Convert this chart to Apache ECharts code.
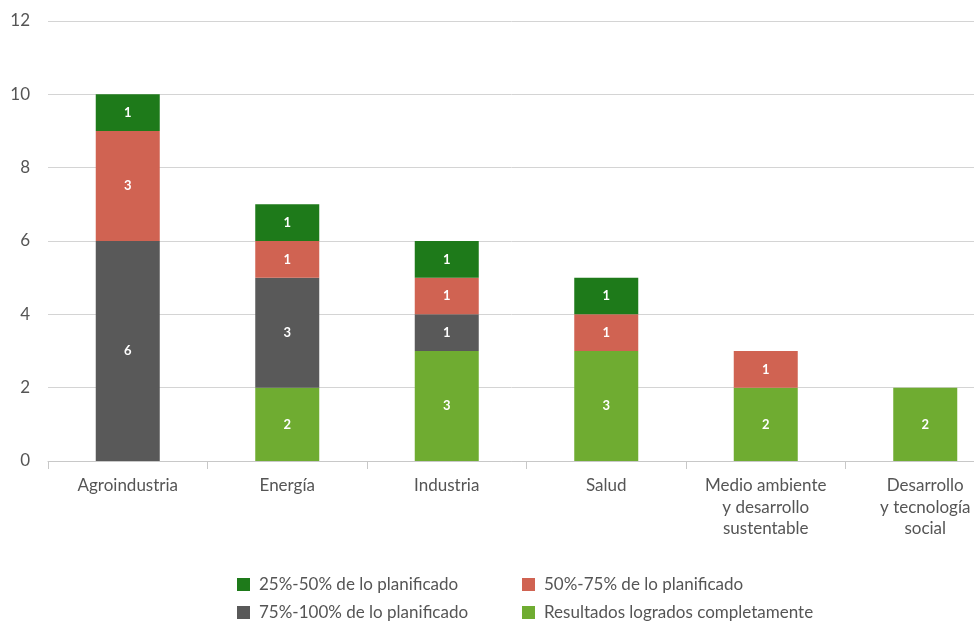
<!DOCTYPE html>
<html><head><meta charset="utf-8">
<script src="https://cdn.jsdelivr.net/npm/echarts@6/dist/echarts.min.js"></script>
<style>html,body{margin:0;padding:0;background:#fff}#c{width:974px;height:623px}</style>
</head><body><div id="c"></div>
<script>
const categories = ['Agroindustria','Energía','Industria','Salud','Medio ambiente\ny desarrollo\nsustentable','Desarrollo\ny tecnología\nsocial'];
const completos = [null, 2, 3, 3, 2, 2];
const p75_100 = [6, 3, 1, null, null, null];
const p50_75 = [3, 1, 1, 1, 1, null];
const p25_50 = [1, 1, 1, 1, null, null];
const yTicks = [0, 2, 4, 6, 8, 10, 12];
const names = ['25%-50% de lo planificado','50%-75% de lo planificado','75%-100% de lo planificado','Resultados logrados completamente'];
const colors = {lg:'#6fac31', gray:'#595959', red:'#d06352', dg:'#1e7a1a'};
const font = 'Lato, "Open Sans", sans-serif';

function s(name, data, color){
  return {name, type:'bar', stack:'a', data, barWidth:64, itemStyle:{color},
    label:{show:true, position:'inside', color:'#fff', fontWeight:'bold', fontSize:13, fontFamily:font}};
}
function lg(name, left, top){
  return {data:[name], left, top, itemWidth:13, itemHeight:13, icon:'rect', padding:0, itemGap:0,
    textStyle:{color:'#555', fontSize:17, fontFamily:font, padding:[0,0,0,4]}};
}
const chart = echarts.init(document.getElementById('c'));
chart.setOption({
  animation:false,
  grid:{left:48, top:21, width:957, height:440, outerBoundsMode:'none', containLabel:false},
  xAxis:{type:'category', data:categories,
    axisLine:{lineStyle:{color:'#c8c8c8', width:1}},
    axisTick:{show:true, length:8, lineStyle:{color:'#c8c8c8'}},
    axisLabel:{color:'#555', fontSize:17, fontFamily:font, margin:14, lineHeight:21.5}},
  yAxis:{type:'value', min:yTicks[0], max:yTicks[yTicks.length-1], interval:2,
    axisLine:{show:false}, axisTick:{show:false},
    splitLine:{lineStyle:{color:'#d4d4d4'}},
    axisLabel:{color:'#555', fontSize:17, fontFamily:font, margin:18}},
  legend:[
    lg(names[0], 237, 576),
    lg(names[1], 522, 576),
    lg(names[2], 237, 604),
    lg(names[3], 522, 604)
  ],
  series:[
    s(names[3], completos, colors.lg),
    s(names[2], p75_100, colors.gray),
    s(names[1], p50_75, colors.red),
    s(names[0], p25_50, colors.dg)
  ]
});
</script></body></html>
